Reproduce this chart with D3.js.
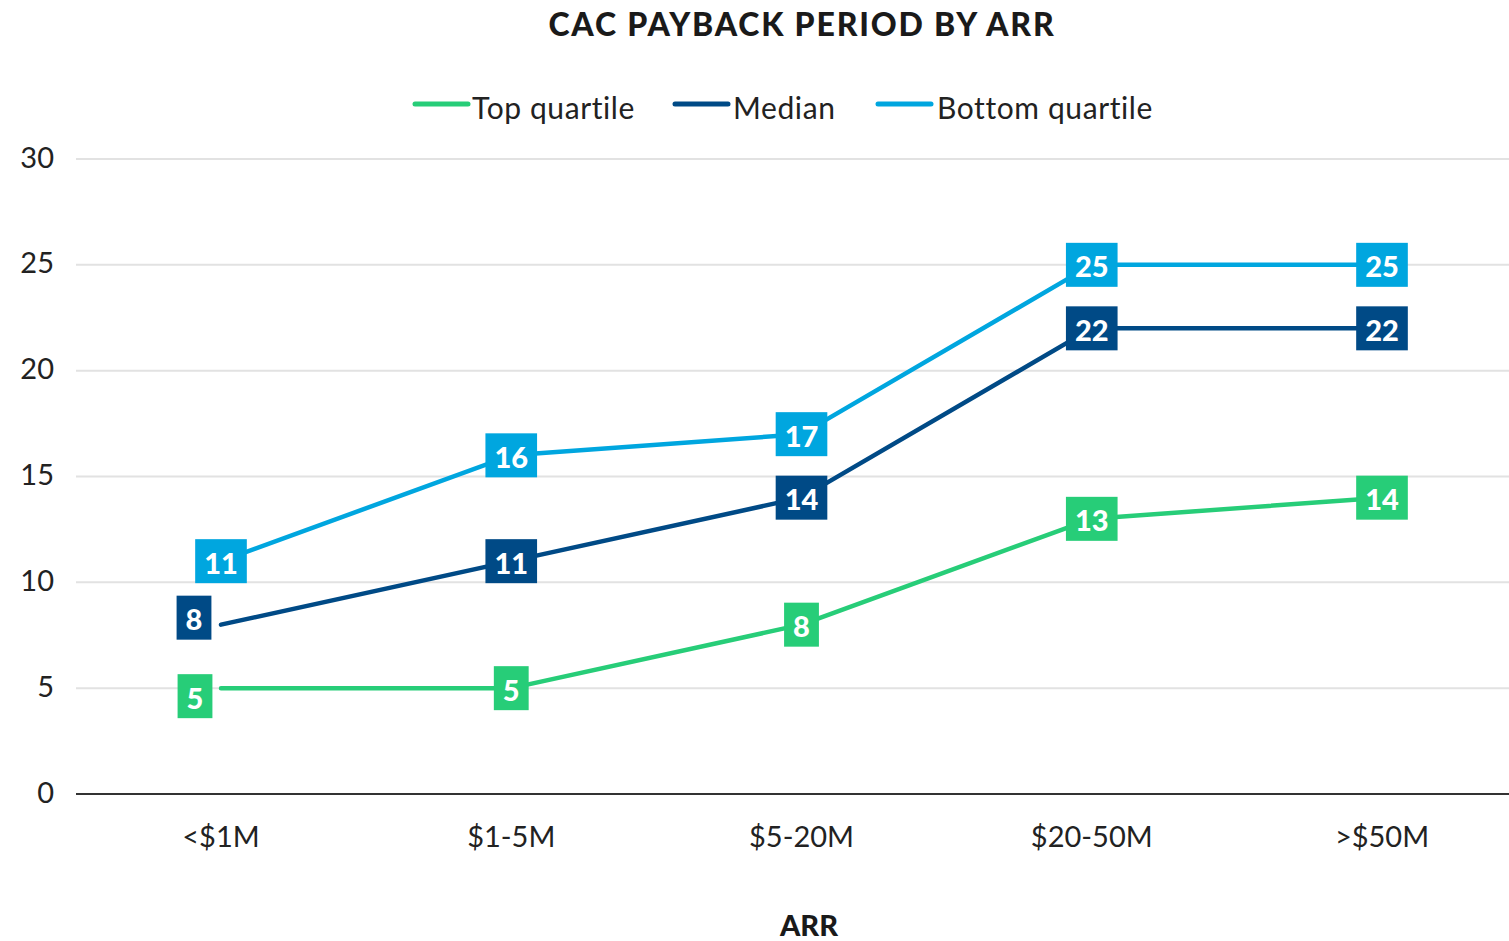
<!DOCTYPE html>
<html>
<head>
<meta charset="utf-8">
<script src="https://cdn.jsdelivr.net/npm/d3@7"></script>
<style>
  body { margin: 0; background: #fff; }
  svg { display: block; font-family: Lato, "Noto Sans", sans-serif; }
</style>
</head>
<body>
<svg id="chart" width="1509" height="941"></svg>
<script>
const categories = ["<$1M", "$1-5M", "$5-20M", "$20-50M", ">$50M"];
const seriesNames = ["Top quartile", "Median", "Bottom quartile"];
const topQuartile = [5, 5, 8, 13, 14];
const median = [8, 11, 14, 22, 22];
const bottomQuartile = [11, 16, 17, 25, 25];
const yTicks = [0, 5, 10, 15, 20, 25, 30];

const colors = ["#27CD78", "#004A86", "#00A6DF"];
// label nudges (px) to avoid overlap at the first category
const nudges = [
  [{dx: -26, dy: 8}, {}, {}, {}, {}],
  [{dx: -27, dy: -7}, {}, {}, {}, {}],
  [{}, {}, {}, {}, {}]
];

const series = [
  {name: seriesNames[0], values: topQuartile, color: colors[0]},
  {name: seriesNames[1], values: median, color: colors[1]},
  {name: seriesNames[2], values: bottomQuartile, color: colors[2]}
];

const svg = d3.select("#chart");
const plotLeft = 76, plotRight = 1509;

const x = d3.scalePoint().domain(categories).range([221, 1382]);
const y = d3.scaleLinear().domain([0, 30]).range([794, 159]);

// Title
svg.append("text").attr("x", 802).attr("y", 23).attr("text-anchor", "middle")
  .attr("dominant-baseline", "central")
  .style("font-size", "32px").style("font-weight", 900).style("fill", "#1a1a1a")
  .style("letter-spacing", "1.8px")
  .text("CAC PAYBACK PERIOD BY ARR");

// Gridlines and y labels
const yAxis = svg.append("g");
yTicks.forEach(t => {
  if (t !== 0) {
    yAxis.append("line").attr("x1", plotLeft).attr("x2", plotRight)
      .attr("y1", y(t)).attr("y2", y(t))
      .attr("stroke", "#e2e2e2").attr("stroke-width", 2);
  }
  yAxis.append("text").attr("x", 54).attr("y", y(t) - 3).attr("text-anchor", "end")
    .attr("dominant-baseline", "central")
    .style("font-size", "29px").style("fill", "#222").text(t);
});
svg.append("line").attr("x1", plotLeft).attr("x2", plotRight)
  .attr("y1", y(0)).attr("y2", y(0)).attr("stroke", "#333").attr("stroke-width", 2);

// X labels
categories.forEach(c => {
  svg.append("text").attr("x", x(c)).attr("y", 835).attr("text-anchor", "middle")
    .attr("dominant-baseline", "central")
    .style("font-size", "29px").style("fill", "#222").text(c);
});
svg.append("text").attr("x", 809).attr("y", 924).attr("text-anchor", "middle")
  .attr("dominant-baseline", "central")
  .style("font-size", "29px").style("font-weight", 900).style("fill", "#1a1a1a").text("ARR");

// Legend
const legendItems = [
  {lx: 415, tx: 472},
  {lx: 675, tx: 733},
  {lx: 878, tx: 937}
];
series.forEach((s, i) => {
  const li = legendItems[i];
  svg.append("line").attr("x1", li.lx).attr("x2", li.lx + 53).attr("y1", 104).attr("y2", 104)
    .attr("stroke", s.color).attr("stroke-width", 5).attr("stroke-linecap", "round");
  svg.append("text").attr("x", li.tx).attr("y", 107).attr("dominant-baseline", "central")
    .style("font-size", "30px").style("letter-spacing", "0.6px").style("fill", "#222").text(s.name);
});

// Lines
const line = d3.line().x((d, i) => x(categories[i])).y(d => y(d));
series.forEach(s => {
  svg.append("path").datum(s.values).attr("d", line)
    .attr("fill", "none").attr("stroke", s.color).attr("stroke-width", 4.5)
    .attr("stroke-linecap", "round").attr("stroke-linejoin", "round");
});

// Value labels
series.forEach((s, si) => {
  s.values.forEach((v, i) => {
    const n = nudges[si][i] || {};
    const cx = x(categories[i]) + (n.dx || 0);
    const cy = y(v) + (n.dy || 0);
    const g = svg.append("g");
    const t = g.append("text").attr("x", cx).attr("y", cy + 1).attr("text-anchor", "middle")
      .attr("dominant-baseline", "central")
      .style("font-size", "29px").style("font-weight", 900).style("fill", "#fff").text(v);
    const w = t.node().getComputedTextLength() + 18;
    g.insert("rect", "text").attr("x", cx - w / 2).attr("y", cy - 22)
      .attr("width", w).attr("height", 44).attr("fill", s.color);
  });
});
</script>
</body>
</html>
